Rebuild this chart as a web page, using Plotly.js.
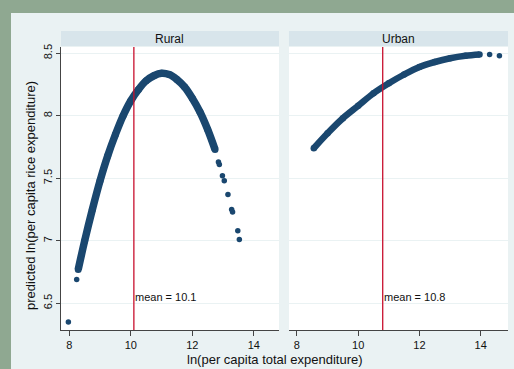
<!DOCTYPE html>
<html>
<head>
<meta charset="utf-8">
<script src="https://cdn.plot.ly/plotly-3.0.1.min.js"></script>
<style>
  html, body { margin: 0; padding: 0; background: #8FA891; width: 514px; height: 369px; overflow: hidden; }
  #chart { position: absolute; left: 11px; top: 13px; width: 503px; height: 356px; }
</style>
</head>
<body>
<div id="chart"></div>
<script>
// Panels
const panels = ["Rural", "Urban"];
const means = [10.1, 10.8];
const meanLabels = ["mean = 10.1", "mean = 10.8"];

// Rural: dense band of predictions
const ruralBandX = [8.29, 8.5, 8.75, 9.0, 9.25, 9.5, 9.75, 10.0, 10.25, 10.5, 10.75, 11.0, 11.25, 11.5, 11.75, 12.0, 12.25, 12.5, 12.74];
const ruralBandY = [6.77, 7.00, 7.25, 7.48, 7.68, 7.85, 8.00, 8.12, 8.21, 8.28, 8.32, 8.34, 8.33, 8.29, 8.23, 8.14, 8.03, 7.89, 7.73];
// Rural: isolated points
const ruralDotsX = [7.97, 8.24, 12.85, 12.88, 12.98, 13.04, 13.16, 13.28, 13.31, 13.48, 13.53];
const ruralDotsY = [6.35, 6.69, 7.63, 7.61, 7.52, 7.48, 7.37, 7.25, 7.23, 7.08, 7.01];

// Urban: dense band
const urbanBandX = [8.55, 9.0, 9.5, 10.0, 10.5, 11.0, 11.5, 12.0, 12.5, 13.0, 13.5, 13.96];
const urbanBandY = [7.74, 7.86, 7.98, 8.08, 8.18, 8.26, 8.33, 8.39, 8.43, 8.46, 8.48, 8.49];
// Urban: isolated points
const urbanDotsX = [14.29, 14.61];
const urbanDotsY = [8.49, 8.48];

// Axis ticks
const xTicks = [8, 10, 12, 14];
const yTicks = [6.5, 7, 7.5, 8, 8.5];

const navy = "#1A476F";
const font = "Liberation Sans, Arial, sans-serif";

const traces = [
  {x: ruralBandX, y: ruralBandY, xaxis: "x", yaxis: "y", mode: "lines+markers", line: {color: navy, width: 7.5, shape: "spline"}, marker: {color: navy, size: 7}, hoverinfo: "skip"},
  {x: ruralDotsX, y: ruralDotsY, xaxis: "x", yaxis: "y", mode: "markers", marker: {color: navy, size: 5.5}, hoverinfo: "skip"},
  {x: urbanBandX, y: urbanBandY, xaxis: "x2", yaxis: "y2", mode: "lines+markers", line: {color: navy, width: 6.5, shape: "spline"}, marker: {color: navy, size: 6.5}, hoverinfo: "skip"},
  {x: urbanDotsX, y: urbanDotsY, xaxis: "x2", yaxis: "y2", mode: "markers", marker: {color: navy, size: 5.5}, hoverinfo: "skip"}
];

const xCommon = {
  tickvals: xTicks, ticktext: xTicks.map(String), ticks: "outside", ticklen: 5, tickcolor: "#444", tickwidth: 1,
  showline: true, linecolor: "#444", linewidth: 1, showgrid: false, zeroline: false,
  tickfont: {family: font, size: 11, color: "#111"}, fixedrange: true
};

const yRange = [6.286, 8.55];

const layout = {
  width: 503, height: 356,
  margin: {l: 50, r: 6, t: 34, b: 39},
  paper_bgcolor: "#EAF2F3",
  plot_bgcolor: "#FFFFFF",
  showlegend: false,
  xaxis: Object.assign({}, xCommon, {domain: [0, 0.4877], range: [7.73, 14.82], anchor: "y"}),
  xaxis2: Object.assign({}, xCommon, {domain: [0.510, 1], range: [7.74, 14.89], anchor: "y2"}),
  yaxis: {
    range: yRange, tickvals: yTicks, ticktext: ["6.5", "7", "7.5", "8", "8.5"], tickangle: -90,
    ticks: "outside", ticklen: 4, tickcolor: "#444", showline: true, linecolor: "#444", linewidth: 1,
    showgrid: true, gridcolor: "#EAF2F3", gridwidth: 1, zeroline: false,
    tickfont: {family: font, size: 11, color: "#111"}, anchor: "x", fixedrange: true
  },
  yaxis2: {
    range: yRange, tickvals: yTicks, showticklabels: false, ticks: "", showline: false,
    showgrid: true, gridcolor: "#EAF2F3", gridwidth: 1, zeroline: false, anchor: "x2", fixedrange: true
  },
  shapes: [
    {type: "rect", xref: "paper", yref: "paper", x0: 0, x1: 0.4877, y0: 1.0035, y1: 1.0565, fillcolor: "#D8E5EB", line: {width: 0}, layer: "below"},
    {type: "rect", xref: "paper", yref: "paper", x0: 0.510, x1: 1, y0: 1.0035, y1: 1.0565, fillcolor: "#D8E5EB", line: {width: 0}, layer: "below"},
    {type: "line", xref: "x", yref: "paper", x0: means[0], x1: means[0], y0: 0, y1: 1, line: {color: "#C8102E", width: 1.3}},
    {type: "line", xref: "x2", yref: "paper", x0: means[1], x1: means[1], y0: 0, y1: 1, line: {color: "#C8102E", width: 1.3}}
  ],
  annotations: [
    {text: panels[0], xref: "paper", yref: "paper", x: 0.2438, y: 1.030, xanchor: "center", yanchor: "middle", showarrow: false, font: {family: font, size: 12, color: "#111"}},
    {text: panels[1], xref: "paper", yref: "paper", x: 0.755, y: 1.030, xanchor: "center", yanchor: "middle", showarrow: false, font: {family: font, size: 12, color: "#111"}},
    {text: meanLabels[0], xref: "x", yref: "y", x: means[0], y: 6.55, xanchor: "left", yanchor: "middle", xshift: -1, showarrow: false, font: {family: font, size: 11, color: "#111"}},
    {text: meanLabels[1], xref: "x2", yref: "y2", x: means[1], y: 6.55, xanchor: "left", yanchor: "middle", xshift: -1, showarrow: false, font: {family: font, size: 11, color: "#111"}},
    {text: "ln(per capita total expenditure)", xref: "paper", yref: "paper", x: 0.4787, y: -0.1025, xanchor: "center", yanchor: "middle", showarrow: false, font: {family: font, size: 13, color: "#111"}},
    {text: "predicted ln(per capita rice expenditure)", xref: "paper", yref: "paper", x: -0.0694, y: 0.477, xanchor: "center", yanchor: "middle", textangle: -90, showarrow: false, font: {family: font, size: 13, color: "#111"}}
  ]
};

Plotly.newPlot("chart", traces, layout, {staticPlot: true, displayModeBar: false});
</script>
</body>
</html>
